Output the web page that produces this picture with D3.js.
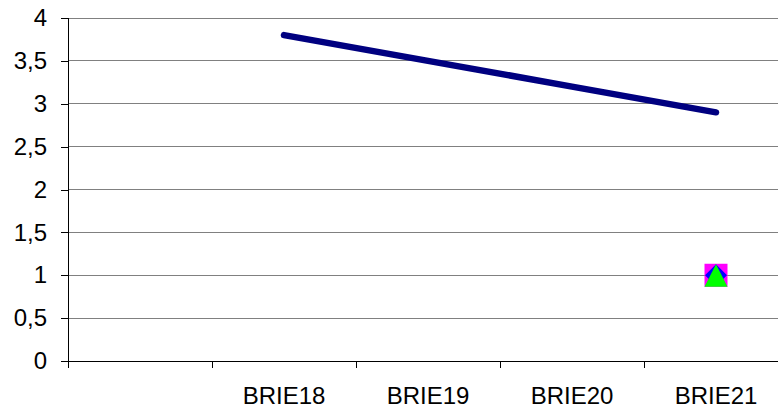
<!DOCTYPE html>
<html><head><meta charset="utf-8">
<script src="https://cdn.jsdelivr.net/npm/d3@7"></script>
<style>body{margin:0;background:#fff;overflow:hidden}</style>
</head><body>
<svg id="c" width="778" height="412"></svg>
<script>
const categories = ["", "BRIE18", "BRIE19", "BRIE20", "BRIE21"];
const lineValues = [null, 3.8, 3.5, 3.2, 2.9];
const squareValues = [null, null, null, null, 1];
const diamondValues = [null, null, null, null, 1];
const triangleValues = [null, null, null, null, 1];
const yTicks = [0, 0.5, 1, 1.5, 2, 2.5, 3, 3.5, 4];

const svg = d3.select("#c");
const x = d3.scaleBand().domain(categories).range([68, 788]);
const y = d3.scaleLinear().domain([0, 4]).range([361, 18]);
const fmt = d => String(d).replace(".", ",");
const font = "Liberation Sans, Arial, sans-serif";

// gridlines
svg.append("g").selectAll("line").data(yTicks.filter(d => d > 0)).join("line")
  .attr("x1", 68).attr("x2", 778).attr("y1", d => y(d)).attr("y2", d => y(d))
  .attr("stroke", "#808080").attr("stroke-width", 1).attr("shape-rendering", "crispEdges");

// y axis
const ya = svg.append("g").attr("transform", "translate(68,0)")
  .call(d3.axisLeft(y).tickValues(yTicks).tickFormat(fmt).tickSize(7).tickPadding(14));
ya.select(".domain").attr("stroke", "#000").attr("d", `M0,${y(4)}V${y(0)}`).attr("shape-rendering", "crispEdges");
ya.selectAll(".tick line").attr("stroke", "#000").attr("shape-rendering", "crispEdges");
ya.selectAll("text").attr("font-family", font).attr("font-size", 24).attr("fill", "#000");

// x axis
const xa = svg.append("g").attr("transform", `translate(0,${y(0)})`);
xa.append("line").attr("x1", 68).attr("x2", 778).attr("y1", 0).attr("y2", 0)
  .attr("stroke", "#000").attr("shape-rendering", "crispEdges");
xa.selectAll("line.t").data(categories).join("line").attr("class", "t")
  .attr("x1", d => x(d)).attr("x2", d => x(d)).attr("y1", 0).attr("y2", 7)
  .attr("stroke", "#000").attr("shape-rendering", "crispEdges");
xa.selectAll("text").data(categories).join("text")
  .attr("x", d => x(d) + x.bandwidth() / 2).attr("y", 43)
  .attr("text-anchor", "middle").attr("font-family", font).attr("font-size", 24)
  .attr("fill", "#000").text(d => d);

// line series
const pts = categories.map((c, i) => ({c, v: lineValues[i]}));
svg.append("path").datum(pts)
  .attr("d", d3.line().defined(d => d.v != null).x(d => x(d.c) + x.bandwidth() / 2).y(d => y(d.v)))
  .attr("fill", "none").attr("stroke", "#000080").attr("stroke-width", 6.5)
  .attr("stroke-linecap", "round").attr("stroke-linejoin", "round");

// markers
const cx = c => x(c) + x.bandwidth() / 2;
const mk = (vals, shape, color) => {
  svg.append("g").selectAll("path").data(categories.map((c, i) => ({c, v: vals[i]})).filter(d => d.v != null))
    .join("path")
    .attr("transform", d => `translate(${cx(d.c)},${y(d.v)})`)
    .attr("d", shape)
    .attr("fill", color);
};
mk(squareValues, "M-11.5,-11.5H11.5V11.5H-11.5Z", "#FF00FF");
mk(diamondValues, "M0,-11L11,0L0,11L-11,0Z", "#0000FF");
mk(triangleValues, "M0,-11L11.5,11.5L-11.5,11.5Z", "#00FF00");
</script>
</body></html>
